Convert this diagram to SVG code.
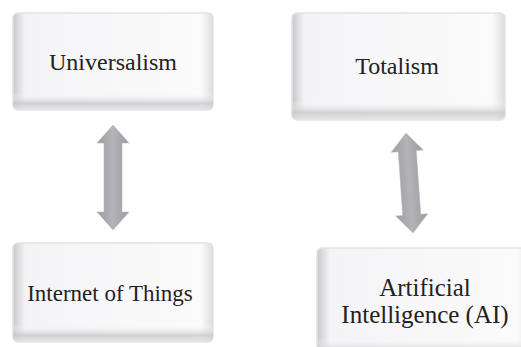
<svg xmlns="http://www.w3.org/2000/svg" width="521" height="347" viewBox="0 0 521 347">
<defs>
<linearGradient id="lg" x1="0" y1="0" x2="1" y2="0">
<stop offset="0" stop-color="#c8c8cc"/>
<stop offset="0.06" stop-color="#f4f4f6"/>
<stop offset="0.94" stop-color="#fbfbfc"/>
<stop offset="1" stop-color="#dcdcdf"/>
</linearGradient>
<linearGradient id="vg" x1="0" y1="0" x2="0" y2="1">
<stop offset="0" stop-color="#ffffff" stop-opacity="0"/>
<stop offset="0.82" stop-color="#ffffff" stop-opacity="0"/>
<stop offset="0.93" stop-color="#c9c9cd" stop-opacity="0.8"/>
<stop offset="1" stop-color="#e6e6e8" stop-opacity="0.9"/>
</linearGradient>
<linearGradient id="ag" x1="0" y1="0" x2="1" y2="0">
<stop offset="0" stop-color="#9c9ca0"/>
<stop offset="0.5" stop-color="#b4b4b8"/>
<stop offset="1" stop-color="#9a9a9e"/>
</linearGradient>
</defs>
<style>
.box{fill:url(#lg);stroke:#e2e2e4;stroke-width:1.5}
.sh{fill:url(#vg);stroke:none}
.arr{fill:url(#ag);stroke:#b8b8bb;stroke-width:0.6}
</style>
<rect width="521" height="347" fill="#ffffff"/>
<g id="node-universalism">
<rect class="box" x="13" y="13" width="200" height="97" rx="5"/>
<rect class="sh" x="13" y="13" width="200" height="97" rx="5"/>
<text x="113" y="70" text-anchor="middle" fill="#222222" font-family="Times New Roman, Liberation Serif, Tinos, serif" font-size="24">Universalism</text>
</g>
<g id="node-iot">
<rect class="box" x="13" y="243" width="200" height="99" rx="5"/>
<rect class="sh" x="13" y="243" width="200" height="99" rx="5"/>
<text x="110" y="301" text-anchor="middle" fill="#222222" font-family="Times New Roman, Liberation Serif, Tinos, serif" font-size="23">Internet of Things</text>
</g>
<g id="node-totalism">
<rect class="box" x="292" y="13" width="213" height="107" rx="5"/>
<rect class="sh" x="292" y="13" width="213" height="107" rx="5"/>
<text x="397" y="74" text-anchor="middle" fill="#222222" font-family="Times New Roman, Liberation Serif, Tinos, serif" font-size="24">Totalism</text>
</g>
<g id="node-ai">
<rect class="box" x="317" y="248" width="214" height="110" rx="5"/>
<rect class="sh" x="317" y="248" width="214" height="110" rx="5"/>
<text x="425" y="296" text-anchor="middle" fill="#222222" font-family="Times New Roman, Liberation Serif, Tinos, serif" font-size="25">Artificial</text>
<text x="425" y="323" text-anchor="middle" fill="#222222" font-family="Times New Roman, Liberation Serif, Tinos, serif" font-size="25">Intelligence (AI)</text>
</g>
<g id="connectors">
<polygon class="arr" points="113,125 129,143 122,143 122,212 129,212 113,230 97,212 104,212 104,143 97,143"/>
<polygon class="arr" transform="rotate(-4 409.5 183)" points="409.5,133 425.5,151 418.5,151 418.5,215 425.5,215 409.5,233 393.5,215 400.5,215 400.5,151 393.5,151"/>
</g>
</svg>
